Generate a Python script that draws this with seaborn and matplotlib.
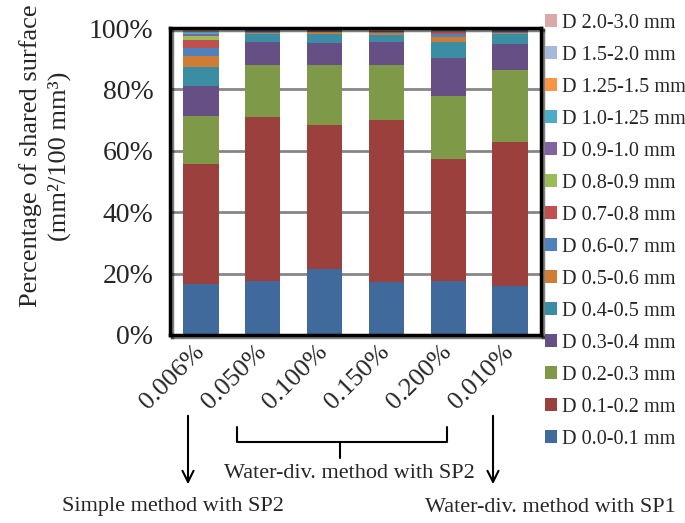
import matplotlib
matplotlib.use("Agg")
import matplotlib.pyplot as plt
import matplotlib.patheffects as pe
from matplotlib.lines import Line2D
import pandas as pd
import seaborn as sns

samples = ["0.006%", "0.050%", "0.100%", "0.150%", "0.200%", "0.010%"]
classes = ["D 0.0-0.1 mm", "D 0.1-0.2 mm", "D 0.2-0.3 mm", "D 0.3-0.4 mm",
           "D 0.4-0.5 mm", "D 0.5-0.6 mm", "D 0.6-0.7 mm", "D 0.7-0.8 mm",
           "D 0.8-0.9 mm", "D 0.9-1.0 mm", "D 1.0-1.25 mm", "D 1.25-1.5 mm",
           "D 1.5-2.0 mm", "D 2.0-3.0 mm"]

# share of shared surface per diameter class (%), one value per sample
d_000_010 = [16.6, 17.7, 21.6, 17.2, 17.5, 15.9]
d_010_020 = [39.1, 53.2, 46.8, 52.9, 39.8, 46.9]
d_020_030 = [15.6, 17.2, 19.5, 17.9, 20.4, 23.4]
d_030_040 = [9.9, 7.3, 7.2, 7.4, 12.5, 8.7]
d_040_050 = [6.0, 2.5, 2.9, 2.3, 5.2, 3.0]
d_050_060 = [3.8, 0.6, 0.6, 0.6, 1.6, 0.6]
d_060_070 = [2.4, 0.4, 0.4, 0.4, 1.1, 0.4]
d_070_080 = [2.6, 0.3, 0.3, 0.3, 0.5, 0.3]
d_080_090 = [1.3, 0.2, 0.2, 0.3, 0.4, 0.2]
d_090_100 = [0.6, 0.1, 0.1, 0.2, 0.3, 0.1]
d_100_125 = [0.7, 0.2, 0.1, 0.2, 0.2, 0.2]
d_125_150 = [0.5, 0.1, 0.1, 0.1, 0.2, 0.1]
d_150_200 = [0.4, 0.1, 0.1, 0.1, 0.15, 0.1]
d_200_300 = [0.5, 0.1, 0.1, 0.1, 0.15, 0.1]

colors = ["#40699c", "#9c403e", "#7e9a48", "#664f85", "#3a8da3", "#d07c35",
          "#4f81bd", "#c0504d", "#9bbb59", "#8064a2", "#4bacc6", "#f79646",
          "#a7b9da", "#dba9a8"]

layers = [d_000_010, d_010_020, d_020_030, d_030_040, d_040_050, d_050_060,
          d_060_070, d_070_080, d_080_090, d_090_100, d_100_125, d_125_150,
          d_150_200, d_200_300]
df = pd.DataFrame(layers, index=classes, columns=samples)
cum = df.cumsum() / 100.0

sns.set_style("white")
plt.rcParams["font.family"] = ["Liberation Serif", "DejaVu Serif"]

W, H = 685, 523
def fx(x):
    return x / W
def fy(y):
    return 1 - y / H

fig = plt.figure(figsize=(6.85, 5.23), dpi=100)
ax = fig.add_axes([fx(170), fy(335), (541 - 170) / W, (335 - 28) / H])

# stacked bars: draw cumulative tops from the highest class down
for cls, col in zip(classes[::-1], colors[::-1]):
    sns.barplot(x=samples, y=cum.loc[cls].values, color=col, saturation=1,
                width=0.57, label=cls, ax=ax, linewidth=0)

ax.set_ylim(0, 1)
ax.set_xlim(-0.5, 5.5)
ax.set_yticks([0, 0.2, 0.4, 0.6, 0.8, 1.0])
ax.set_yticklabels(["0%", "20%", "40%", "60%", "80%", "100%"], fontsize=20)
ax.yaxis.grid(True, color="#868686", lw=2)
ax.set_axisbelow(True)
ax.tick_params(axis="y", length=9, width=2, color="#868686", pad=3)
ax.tick_params(axis="x", length=0, pad=10)
ax.set_xticks(range(len(samples)))
ax.set_xticklabels(samples, rotation=45, ha="right", va="center",
                   rotation_mode="anchor", fontsize=19)
ax.set_xlabel("")
ax.set_ylabel("")

for sp in ax.spines.values():
    sp.set_visible(True)
    sp.set_color("black")
    sp.set_linewidth(2.5)
    sp.set_path_effects([pe.SimpleLineShadow(offset=(1.5, -1.5), alpha=0.5), pe.Normal()])

handles, labels = ax.get_legend_handles_labels()
if ax.get_legend() is not None:
    ax.get_legend().remove()
fig.legend(handles, labels, loc="upper left", bbox_to_anchor=(fx(545), fy(14)),
           frameon=False, fontsize=14.6, labelspacing=0.64, handlelength=0.6,
           handleheight=0.6, handletextpad=0.25, borderaxespad=0, borderpad=0)

fig.text(fx(45), fy(156), "Percentage of shared surface\n(mm²/100 mm³)",
         rotation=90, ha="center", va="center", multialignment="center",
         fontsize=19, linespacing=1.3)

# annotations under the axis
arrow = dict(arrowstyle="->,head_width=0.4,head_length=0.8", lw=1.5, color="black")
ax.annotate("", xy=(fx(188), fy(487)), xytext=(fx(188), fy(413)),
            xycoords="figure fraction", textcoords="figure fraction", arrowprops=arrow)
ax.annotate("", xy=(fx(493), fy(487)), xytext=(fx(493), fy(413)),
            xycoords="figure fraction", textcoords="figure fraction", arrowprops=arrow)

bx = [fx(237), fx(237), fx(447), fx(447)]
by = [fy(427), fy(442), fy(442), fy(427)]
fig.add_artist(Line2D(bx, by, color="black", lw=1.5))
fig.add_artist(Line2D([fx(340), fx(340)], [fy(442), fy(458)], color="black", lw=1.5))

fig.text(fx(349), fy(474), "Water-div. method with SP2", ha="center", va="center", fontsize=16)
fig.text(fx(173), fy(507), "Simple method with SP2", ha="center", va="center", fontsize=16)
fig.text(fx(550), fy(507), "Water-div. method with SP1", ha="center", va="center", fontsize=16)

fig.savefig("out.png", dpi=100)
